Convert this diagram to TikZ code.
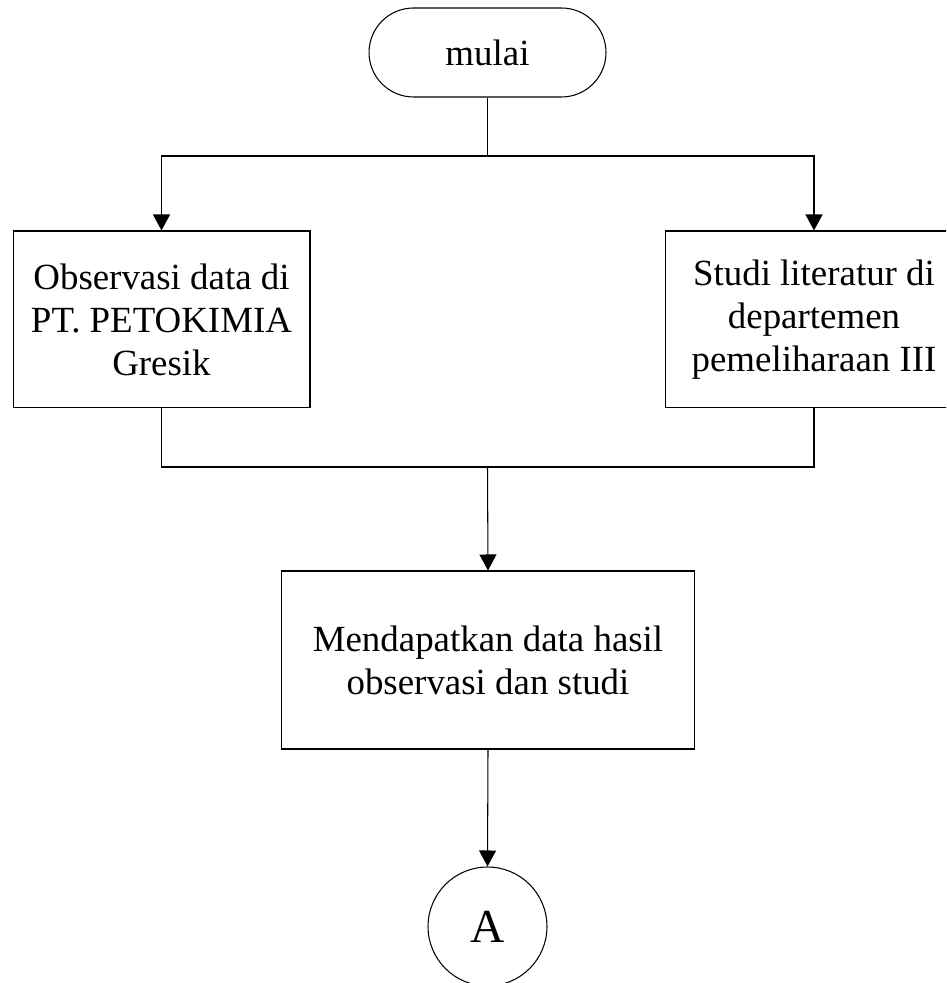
\documentclass[tikz,border=0pt]{standalone}
\usepackage{fontspec}
\setmainfont{Liberation Serif}
\usetikzlibrary{arrows.meta}
\def\lebar{946}
\def\tinggi{983}

\begin{document}
\begin{tikzpicture}[x=0.02cm, y=0.02cm,
    garis/.style={line width=0.6pt, black},
    panah/.style={garis, -{Triangle[width=0.34cm, length=0.32cm]}},
    proses/.style={draw, garis, fill=white, align=center, font=\fontsize{21}{24.5}\selectfont},
    terminal/.style={proses, minimum width=4.74cm, minimum height=1.78cm, rounded corners=0.89cm},
    konektor/.style={proses, circle, minimum size=2.38cm, inner sep=0pt, font=\fontsize{27}{30}\selectfont}]
    % Frame.
    \useasboundingbox (0,0) rectangle (\lebar,\tinggi);
    \clip (0,0) rectangle (\lebar,\tinggi);
    \fill[white] (0,0) rectangle (\lebar,\tinggi);
    % Nodes.
    \node[terminal] (mulai) at (487.5, 930.5) {mulai};
    \node[proses, minimum width=5.94cm, minimum height=3.54cm] (observasi) at (161.5, 663.5)
        {Observasi data di\\PT. PETOKIMIA\\Gresik};
    \node[proses, minimum width=5.94cm, minimum height=3.54cm] (studi) at (814, 663.5)
        {Studi literatur di\\departemen\\pemeliharaan III};
    \node[proses, minimum width=8.28cm, minimum height=3.56cm] (hasil) at (488, 323)
        {Mendapatkan data hasil\\observasi dan studi};
    \node[konektor] (A) at (487.5, 56.5) {A};
    % Branch points.
    \coordinate (cabang) at (487.5, 827);
    \coordinate (gabung) at (487.5, 516);
    % Connectors.
    \draw[garis] (mulai.south) -- (cabang);
    \draw[panah] (cabang) -| (observasi.north);
    \draw[panah] (cabang) -| (studi.north);
    \draw[garis] (observasi.south) |- (gabung);
    \draw[garis] (studi.south) |- (gabung);
    \draw[panah] (gabung) -- (hasil.north);
    \draw[panah] (hasil.south) -- (A.north);
\end{tikzpicture}
\end{document}
